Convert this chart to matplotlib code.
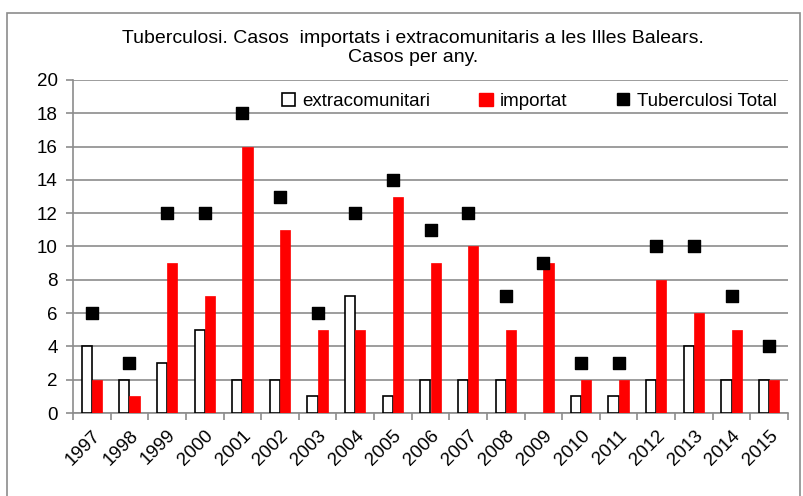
import matplotlib.pyplot as plt
import numpy as np
from matplotlib.patches import Rectangle

years = ["1997", "1998", "1999", "2000", "2001", "2002", "2003", "2004", "2005", "2006",
         "2007", "2008", "2009", "2010", "2011", "2012", "2013", "2014", "2015"]
extracomunitari = [4, 2, 3, 5, 2, 2, 1, 7, 1, 2, 2, 2, 0, 1, 1, 2, 4, 2, 2]
importat = [2, 1, 9, 7, 16, 11, 5, 5, 13, 9, 10, 5, 9, 2, 2, 8, 6, 5, 2]
total = [6, 3, 12, 12, 18, 13, 6, 12, 14, 11, 12, 7, 9, 3, 3, 10, 10, 7, 4]

plt.rcParams['font.family'] = ['Liberation Sans', 'DejaVu Sans']

fig = plt.figure(figsize=(8.04, 4.96), dpi=100)
# outer chart border
fig.patches.append(Rectangle((7 / 804, -0.01), (800 - 7) / 804, 1 - 13 / 496 + 0.01,
                             transform=fig.transFigure, fill=False,
                             edgecolor="#8c8c8c", lw=1.2))

ax = fig.add_axes([73 / 804, 1 - 413 / 496, (788 - 73) / 804, (413 - 80) / 496])

x = np.arange(len(years))
w = 0.27
ax.bar(x - w / 2, extracomunitari, w, color="white", edgecolor="black",
       lw=[1.2 if v > 0 else 0 for v in extracomunitari], zorder=3)
ax.bar(x + w / 2, importat, w, color="#ff0000", edgecolor="#ff0000", lw=0.5, zorder=3)
ax.scatter(x, total, marker="s", s=70, color="black", zorder=4)

ax.set_xlim(-0.5, len(years) - 0.5)
ax.set_ylim(0, 20)
ax.set_yticks(range(0, 21, 2))
ax.yaxis.grid(True, color="#8c8c8c", lw=1.2, zorder=0)
ax.set_axisbelow(True)
for s in ["top", "right"]:
    ax.spines[s].set_visible(False)
ax.spines["left"].set_color("#8c8c8c")
ax.spines["bottom"].set_color("#8c8c8c")
ax.spines["left"].set_linewidth(1.2)
ax.spines["bottom"].set_linewidth(1.2)

ax.set_xticks(x)
ax.set_xticklabels(years, rotation=45, ha="right", rotation_mode="anchor", fontsize=13.5)
ax.set_xticks(np.arange(-0.5, len(years), 1), minor=True)
ax.tick_params(axis="x", which="major", length=0, pad=10)
ax.tick_params(axis="x", which="minor", length=5, color="#8c8c8c", width=1.2)
ax.tick_params(axis="y", length=5, color="#8c8c8c", width=1.2, labelsize=13.5, pad=6)

# legend in reference order
h_ext = Rectangle((0, 0), 1, 1, facecolor="white", edgecolor="black", lw=1.2)
h_imp = Rectangle((0, 0), 1, 1, facecolor="#ff0000", edgecolor="#ff0000")
h_tot = plt.Line2D([], [], marker="s", ls="none", color="black", markersize=8)
ax.legend([h_ext, h_imp, h_tot], ["extracomunitari", "importat", "Tuberculosi Total"],
          loc="upper right", bbox_to_anchor=(1.0, 0.995), ncol=3, frameon=False,
          fontsize=13.5, handlelength=0.7, handleheight=0.7, columnspacing=2.6,
          handletextpad=0.4, borderaxespad=0.2)

fig.text(413 / 804, 1 - 48 / 496, "Tuberculosi. Casos  importats i extracomunitaris a les Illes Balears.\nCasos per any.",
         ha="center", va="center", fontsize=14, linespacing=1.1)

fig.savefig("out.png", dpi=100)
